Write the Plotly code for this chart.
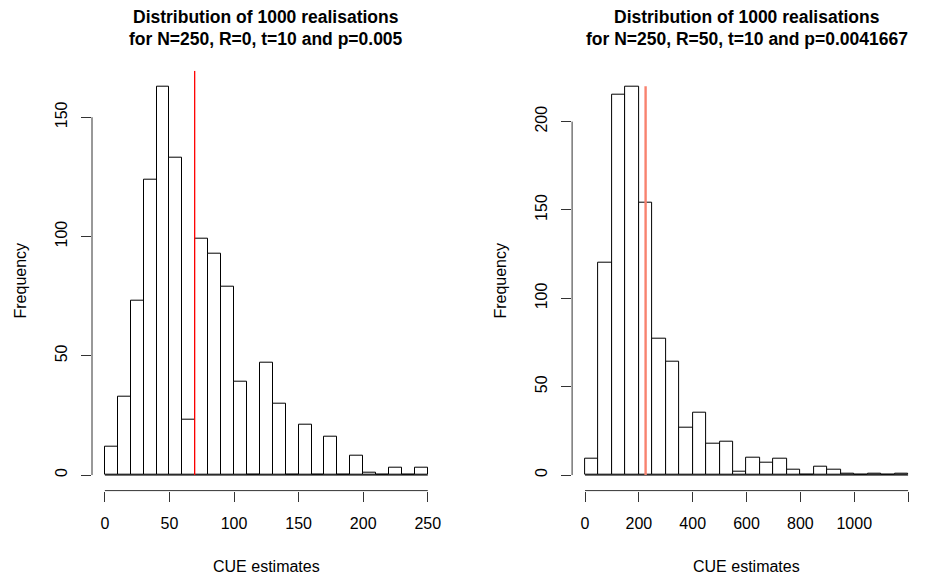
import numpy as np
import plotly.graph_objects as go

# ---------------- data ----------------
left_title = ["Distribution of 1000 realisations", "for N=250, R=0, t=10 and p=0.005"]
right_title = ["Distribution of 1000 realisations", "for N=250, R=50, t=10 and p=0.0041667"]

left_bin_start = 0
left_bin_width = 10
left_counts = [12, 33, 73, 124, 163, 133, 23, 99, 93, 79, 39, 0, 47, 30, 0,
               21, 0, 16, 0, 8, 1, 0, 3, 0, 3]
left_ref_x = 69.5
left_ref_top = 169.5
left_xticks = [0, 50, 100, 150, 200, 250]
left_xticklabels = ["0", "50", "100", "150", "200", "250"]
left_yticks = [0, 50, 100, 150]

right_bin_start = 0
right_bin_width = 50
right_counts = [9, 120, 215, 220, 154, 77, 64, 27, 35, 18, 19, 2, 10, 7, 9, 3,
                0, 5, 3, 1, 0, 1, 0, 1]
right_ref_x = 225
right_ref_top = 220
right_xticks = [0, 200, 400, 600, 800, 1000, 1200]
right_xticklabels = ["0", "200", "400", "600", "800", "1000", ""]
right_yticks = [0, 50, 100, 150, 200]

x_label = "CUE estimates"
y_label = "Frequency"

# ---------------- layout constants (pixels) ----------------
W, H = 945, 578
FONT = "Liberation Sans, Arial, sans-serif"
plot_top_px, plot_bot_px = 70.7, 490.6
panels_px = [(92.0, 440.7), (572.1, 921.0)]


def py(px):
    return 1 - px / H


def px_x(px):
    return px / W


fig = go.Figure()
annotations = []
shapes = []

panels = [
    (left_bin_start, left_bin_width, left_counts, left_ref_x, left_ref_top,
     left_xticks, left_xticklabels, left_yticks, left_title, "red", 1.3),
    (right_bin_start, right_bin_width, right_counts, right_ref_x, right_ref_top,
     right_xticks, right_xticklabels, right_yticks, right_title, "#F8826F", 2.4),
]

for i, (b0, bw, counts, rx, rtop, xt, xtl, yt, title, rcol, rw) in enumerate(panels):
    n = i + 1
    xa = "x" if n == 1 else f"x{n}"
    ya = "y" if n == 1 else f"y{n}"
    counts = np.array(counts)
    edges = b0 + bw * np.arange(len(counts) + 1)
    centers = (edges[:-1] + edges[1:]) / 2
    # histogram bars
    fig.add_trace(go.Bar(x=centers, y=counts, width=bw, xaxis=xa, yaxis=ya,
                         marker=dict(color="white", line=dict(color="black", width=1)),
                         showlegend=False, hoverinfo="skip"))
    # baseline of empty bins
    fig.add_trace(go.Scatter(x=[edges[0], edges[-1]], y=[0, 0], mode="lines",
                             xaxis=xa, yaxis=ya, line=dict(color="black", width=1),
                             showlegend=False, hoverinfo="skip"))
    # reference line
    fig.add_trace(go.Scatter(x=[rx, rx], y=[0, rtop], mode="lines",
                             xaxis=xa, yaxis=ya, line=dict(color=rcol, width=rw),
                             showlegend=False, hoverinfo="skip"))

    xr = [edges[0] - 0.04 * (edges[-1] - edges[0]), edges[-1] + 0.04 * (edges[-1] - edges[0])]
    ymax = counts.max()
    yr = [-0.04 * ymax, ymax * 1.04]
    x0p, x1p = panels_px[i]
    dom_x = [px_x(x0p), px_x(x1p)]
    dom_y = [py(plot_bot_px), py(plot_top_px)]
    tickfont = dict(family=FONT, size=16, color="black")
    fig.update_layout(**{
        ("xaxis" if n == 1 else f"xaxis{n}"): dict(
            domain=dom_x, range=xr, anchor=ya, showgrid=False, zeroline=False,
            showline=False, ticks="outside", ticklen=10, tickwidth=1, tickcolor="#333",
            tickvals=xt, ticktext=xtl, tickfont=tickfont, ticklabelstandoff=8),
        ("yaxis" if n == 1 else f"yaxis{n}"): dict(
            domain=dom_y, range=yr, anchor=xa, showgrid=False, zeroline=False,
            showline=False, ticks="outside", ticklen=10, tickwidth=1, tickcolor="#333",
            tickvals=yt, ticktext=[str(v) for v in yt], tickangle=-90,
            tickfont=tickfont, ticklabelstandoff=8),
    })
    # axis lines spanning first to last tick
    shapes.append(dict(type="line", xref=xa, yref="paper", x0=xt[0], x1=xt[-1],
                       y0=dom_y[0], y1=dom_y[0], line=dict(color="#333", width=1)))
    shapes.append(dict(type="line", xref="paper", yref=ya, x0=dom_x[0], x1=dom_x[0],
                       y0=yt[0], y1=yt[-1], line=dict(color="#333", width=1)))
    cx = (dom_x[0] + dom_x[1]) / 2
    # titles
    tfont = dict(family=FONT, size=17.5, color="black")
    annotations.append(dict(text="<b>%s</b>" % title[0], x=cx, y=py(16.5), xref="paper",
                            yref="paper", showarrow=False, xanchor="center", yanchor="middle",
                            font=tfont))
    annotations.append(dict(text="<b>%s</b>" % title[1], x=cx, y=py(39.0), xref="paper",
                            yref="paper", showarrow=False, xanchor="center", yanchor="middle",
                            font=tfont))
    annotations.append(dict(text=x_label, x=cx, y=py(566.5), xref="paper", yref="paper",
                            showarrow=False, xanchor="center", yanchor="middle",
                            font=dict(family=FONT, size=16, color="black")))
    annotations.append(dict(text=y_label, x=px_x(x0p - 72.5), y=py(281), xref="paper",
                            yref="paper", showarrow=False, xanchor="center", yanchor="middle",
                            textangle=-90, font=dict(family=FONT, size=16, color="black")))

fig.update_layout(width=W, height=H, margin=dict(l=0, r=0, t=0, b=0),
                  paper_bgcolor="white", plot_bgcolor="white",
                  annotations=annotations, shapes=shapes, bargap=0,
                  font=dict(family=FONT, size=16, color="black"))

fig.write_html("out.html")
